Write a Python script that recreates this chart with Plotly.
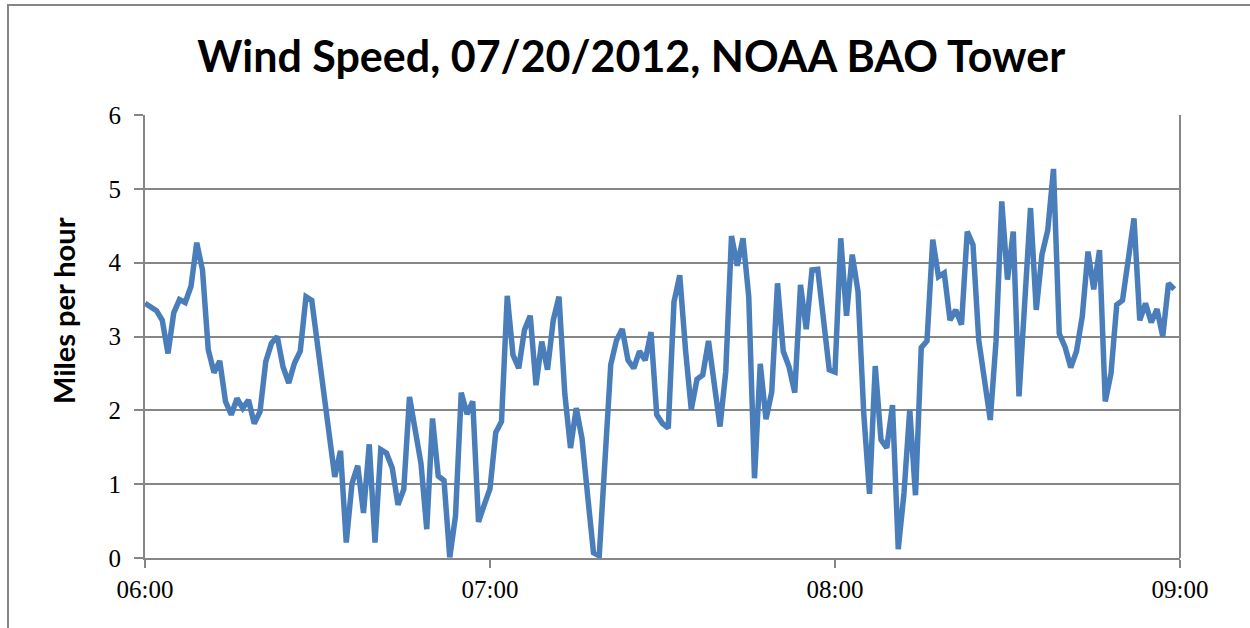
import pandas as pd
import plotly.graph_objects as go

# Wind speed (mph), one reading per minute starting 06:00
speed = [
    3.45, 3.40, 3.35, 3.22, 2.77, 3.32, 3.50, 3.46, 3.68, 4.27,
    3.90, 2.82, 2.51, 2.67, 2.12, 1.94, 2.16, 2.03, 2.14, 1.82,
    1.98, 2.66, 2.91, 3.00, 2.59, 2.37, 2.64, 2.80, 3.54, 3.49,
    2.90, 2.30, 1.70, 1.10, 1.45, 0.21, 1.01, 1.25, 0.61, 1.54,
    0.21, 1.47, 1.42, 1.22, 0.72, 0.93, 2.18, 1.69, 1.28, 0.39,
    1.89, 1.11, 1.05, 0.01, 0.57, 2.24, 1.95, 2.12, 0.49, 0.72,
    0.94, 1.70, 1.85, 3.55, 2.75, 2.57, 3.09, 3.28, 2.34, 2.93,
    2.55, 3.22, 3.54, 2.23, 1.49, 2.03, 1.62, 0.83, 0.07, 0.03,
    1.49, 2.62, 2.95, 3.10, 2.68, 2.57, 2.80, 2.68, 3.06, 1.94,
    1.82, 1.76, 3.47, 3.83, 2.82, 2.01, 2.42, 2.48, 2.94, 2.32,
    1.78, 2.52, 4.36, 3.96, 4.33, 3.54, 1.08, 2.63, 1.88, 2.25,
    3.72, 2.80, 2.59, 2.24, 3.70, 3.10, 3.90, 3.91, 3.22, 2.55,
    2.52, 4.33, 3.28, 4.11, 3.61, 1.96, 0.87, 2.60, 1.60, 1.49,
    2.07, 0.12, 0.88, 2.01, 0.85, 2.85, 2.94, 4.31, 3.81, 3.86,
    3.22, 3.36, 3.16, 4.42, 4.24, 2.95, 2.41, 1.87, 2.93, 4.83,
    3.77, 4.42, 2.19, 3.36, 4.74, 3.36, 4.11, 4.44, 5.27, 3.04,
    2.86, 2.58, 2.80, 3.27, 4.15, 3.64, 4.17, 2.12, 2.50, 3.43,
    3.49, 4.04, 4.60, 3.22, 3.45, 3.19, 3.37, 3.00, 3.72, 3.64,
]
start_time = "2012-07-20 06:00"
tick_vals = ["2012-07-20 06:00", "2012-07-20 07:00", "2012-07-20 08:00", "2012-07-20 09:00"]
tick_text = ["06:00", "07:00", "08:00", "09:00"]
y_ticks = [0, 1, 2, 3, 4, 5, 6]

times = pd.date_range(start=start_time, periods=len(speed), freq="1min")

title_text = "Wind Speed, 07/20/2012, NOAA BAO Tower"
y_title = "Miles per hour"

GRID = "#868686"
LINE = "#4A7EBB"
SERIF = "Liberation Serif, DejaVu Serif, serif"

fig = go.Figure()
fig.add_trace(go.Scatter(
    x=times, y=speed, mode="lines",
    line=dict(color=LINE, width=5.5),
    showlegend=False, hoverinfo="x+y",
))

fig.update_layout(
    width=1250, height=628,
    paper_bgcolor="white", plot_bgcolor="white",
    margin=dict(l=145, r=70, t=115, b=70),
    title=dict(text=title_text, x=0.505, xanchor="center", y=0.91, yanchor="middle",
               font=dict(family="Lato", size=43, color="black", weight="bold")),
    xaxis=dict(
        range=[tick_vals[0], tick_vals[-1]],
        tickvals=tick_vals, ticktext=tick_text,
        showgrid=False, showline=True, linecolor=GRID, linewidth=2,
        ticks="outside", ticklen=8, tickwidth=2, tickcolor=GRID,
        tickfont=dict(family=SERIF, size=25, color="black"),
        mirror=False, zeroline=False,
    ),
    yaxis=dict(
        range=[0, 6], tickvals=y_ticks,
        showgrid=True, gridcolor=GRID, gridwidth=2,
        showline=True, linecolor=GRID, linewidth=2,
        ticks="outside", ticklen=9, tickwidth=2, tickcolor=GRID,
        ticklabelstandoff=8,
        tickfont=dict(family=SERIF, size=25, color="black"),
        zeroline=False,
    ),
    annotations=[
        dict(text=y_title, xref="paper", yref="paper",
             x=(63 - 145) / 1035, y=(558 - 311) / 443,
             xanchor="center", yanchor="middle", textangle=-90, showarrow=False,
             font=dict(family="Lato", size=29, color="black", weight="bold")),
    ],
    shapes=[
        # right frame of plot area
        dict(type="line", xref="paper", yref="paper", x0=1, x1=1, y0=0, y1=1,
             line=dict(color=GRID, width=2)),
        # outer chart border
        dict(type="rect", xref="paper", yref="paper",
             x0=(8 - 145) / 1035, x1=(1256 - 145) / 1035,
             y0=(558 - 640) / 443, y1=(558 - 5) / 443,
             line=dict(color=GRID, width=2), layer="below"),
    ],
)

fig.write_html("out.html", config={"displayModeBar": False},
               post_script="document.body.style.margin='0';")
